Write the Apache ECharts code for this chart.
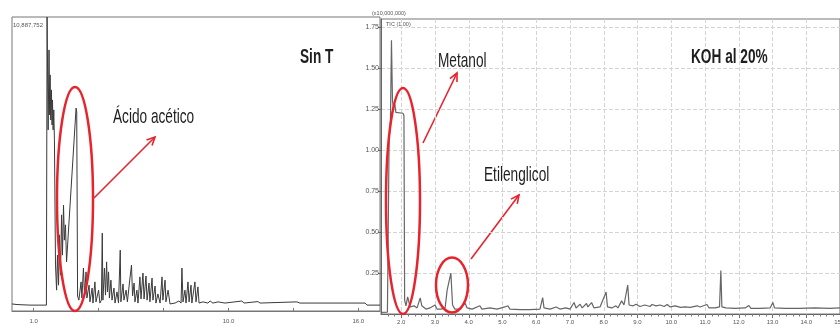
<!DOCTYPE html>
<html>
<head>
<meta charset="utf-8">
<title>Cromatogramas</title>
<script src="https://cdn.jsdelivr.net/npm/echarts@6.0.0/dist/echarts.min.js"></script>
<style>
html, body { margin: 0; padding: 0; background: #fff; }
#chart { width: 840px; height: 328px; }
</style>
</head>
<body>
<div id="chart"></div>
<script>
// Sin T - tiempo de retencion (min) y senal relativa
var sinTTime = [0, 0.09, 0.23, 0.83, 1.59, 1.62, 1.645, 1.67, 1.71, 1.74,
  1.76, 1.79, 1.82, 1.85, 1.87, 1.90, 1.93, 1.96, 2.01, 2.06,
  2.10, 2.15, 2.19, 2.24, 2.29, 2.33, 2.38, 2.42, 2.47, 2.52,
  2.96, 2.99, 3.03, 3.09, 3.19, 3.23, 3.30, 3.35, 3.42, 3.46,
  3.56, 3.60, 3.70, 3.74, 3.83, 3.88, 4.00, 4.06, 4.13, 4.17,
  4.20, 4.27, 4.32, 4.37, 4.41, 4.46, 4.50, 4.57, 4.62, 4.71,
  4.76, 4.85, 4.92, 4.97, 5.00, 5.03, 5.13, 5.17, 5.27, 5.33,
  5.45, 5.52, 5.57, 5.64, 5.68, 5.77, 5.82, 5.91, 5.96, 6.05,
  6.10, 6.19, 6.24, 6.33, 6.37, 6.47, 6.51, 6.61, 6.65, 6.74,
  6.84, 6.93, 6.97, 7.07, 7.11, 7.21, 7.30, 7.53, 7.71, 7.81,
  7.85, 7.90, 7.99, 8.04, 8.13, 8.18, 8.27, 8.31, 8.45, 8.50,
  8.59, 8.64, 8.82, 9.05, 9.15, 9.28, 9.52, 9.84, 10.62, 10.72,
  11.36, 11.46, 13.16, 13.30, 15.61, 16.31, 16.40, 17.0];
var sinTSignal = [2.4, 2.9, 2.2, 2.0, 2.0, 100, 100, 61.6, 88.8, 66.7,
  80.3, 65, 75.2, 63.3, 71.8, 61.6, 68.4, 58.2, 15.6, 7.1,
  19, 8.8, 25.9, 12.2, 32.7, 19, 36, 24.1, 29.3, 16.7,
  69, 67.7, 5.1, 3.7, 9.9, 4.4, 14.6, 5.4, 13.3, 4.4,
  8.8, 3.1, 7.8, 2.7, 9.9, 3.1, 7.1, 2.7, 3.7, 26.5,
  3.7, 14.6, 5.4, 16.7, 6.5, 13.3, 4.4, 10.5, 3.7, 7.8,
  2.7, 6.5, 2.7, 3.1, 20.7, 3.1, 9.2, 3.7, 7.1, 3.1,
  11.2, 15.6, 5.1, 9.5, 3.1, 7.1, 2.7, 11.6, 4.1, 12.9,
  4.1, 11.9, 3.7, 9.5, 3.1, 11.2, 3.7, 8.5, 2.7, 5.8,
  2.7, 11.6, 3.7, 10.5, 3.1, 7.1, 2.4, 2.7, 3.4, 2.7,
  14.6, 3.1, 7.1, 2.7, 9.9, 3.1, 8.8, 2.7, 9.9, 3.1,
  8.2, 2.7, 3.1, 2.7, 3.4, 2.7, 3.1, 2.7, 3.4, 2.7,
  3.2, 2.7, 3.1, 2.7, 2.7, 2.7, 2.0, 2.0];
var sinTTicks = [1, 4, 7, 10, 13, 16];
var sinTLabels = [1, 10, 16];

// KOH al 20% - tiempo de retencion (min) e intensidad (x10,000,000)
var kohTime = [1.40, 1.59, 1.64, 1.68, 1.71, 1.74, 1.77, 1.81, 1.84, 2.05,
  2.08, 2.10, 2.14, 2.19, 2.26, 2.38, 2.47, 2.56, 2.61, 2.73,
  2.85, 3.00, 3.06, 3.18, 3.30, 3.36, 3.47, 3.52, 3.59, 3.74,
  3.89, 3.95, 4.10, 4.33, 4.39, 4.63, 4.84, 5.07, 5.16, 5.22,
  5.52, 5.81, 6.11, 6.19, 6.23, 6.41, 6.59, 6.70, 6.88, 7.00,
  7.12, 7.18, 7.30, 7.36, 7.49, 7.53, 7.64, 7.71, 7.89, 8.07,
  8.11, 8.24, 8.36, 8.42, 8.53, 8.60, 8.71, 8.75, 8.87, 8.96,
  9.07, 9.22, 9.37, 9.43, 9.55, 9.67, 9.79, 9.88, 9.97, 10.12,
  10.27, 10.41, 10.56, 10.77, 10.85, 11.06, 11.12, 11.30, 11.43, 11.47,
  11.50, 11.62, 11.89, 12.19, 12.30, 12.36, 12.63, 12.93, 13.01, 13.06,
  13.37, 13.81, 14.26, 14.70, 15.0];
var kohSignal = [0.01, 0.012, 1.06, 1.18, 1.67, 1.30, 1.26, 1.28, 1.23, 1.225,
  1.21, 0.085, 0.05, 0.104, 0.043, 0.05, 0.037, 0.098, 0.05, 0.03,
  0.037, 0.055, 0.03, 0.03, 0.037, 0.146, 0.25, 0.055, 0.03, 0.03,
  0.067, 0.037, 0.03, 0.05, 0.03, 0.037, 0.03, 0.043, 0.05, 0.03,
  0.027, 0.027, 0.03, 0.10, 0.037, 0.03, 0.043, 0.03, 0.037, 0.03,
  0.07, 0.037, 0.06, 0.037, 0.064, 0.043, 0.07, 0.037, 0.043, 0.134,
  0.043, 0.037, 0.05, 0.037, 0.08, 0.055, 0.177, 0.055, 0.05, 0.06,
  0.046, 0.055, 0.046, 0.058, 0.05, 0.055, 0.046, 0.058, 0.043, 0.05,
  0.04, 0.043, 0.04, 0.05, 0.043, 0.058, 0.037, 0.037, 0.043, 0.265,
  0.043, 0.037, 0.034, 0.037, 0.052, 0.034, 0.034, 0.037, 0.07, 0.037,
  0.034, 0.034, 0.037, 0.034, 0.037];
var kohXLabels = [2, 3, 4, 5, 6, 7, 8, 9, 10, 11, 12, 13, 14, 15];
var kohYLabels = [0.25, 0.5, 0.75, 1, 1.25, 1.5, 1.75];

var kohMinorTicks = [];
for (var m = 8; m <= 75; m++) kohMinorTicks.push(Math.round(m * 20) / 100);

var RED = '#e8232b';
var FONT = '"Liberation Sans", Arial, sans-serif';

function pairs(xs, ys) {
  return xs.map(function (x, i) { return [x, ys[i]]; });
}

function label(text, x, y, bold) {
  return {
    type: 'text', x: x, y: y, scaleX: 0.65, z: 20,
    style: {
      text: text, font: (bold ? 'bold ' : '') + '21px ' + FONT, fill: '#1e1e1e',
      align: 'left', verticalAlign: 'middle', textAlign: 'left', textVerticalAlign: 'middle'
    }
  };
}

function arrow(x0, y0, x1, y1) {
  var a = Math.atan2(y1 - y0, x1 - x0), len = 9, w = 0.45;
  return {
    type: 'group', z: 20,
    children: [
      { type: 'line', shape: { x1: x0, y1: y0, x2: x1, y2: y1 }, style: { stroke: RED, lineWidth: 1.6 } },
      { type: 'polyline', shape: { points: [
          [x1 - len * Math.cos(a - w), y1 - len * Math.sin(a - w)], [x1, y1],
          [x1 - len * Math.cos(a + w), y1 - len * Math.sin(a + w)]] },
        style: { stroke: RED, lineWidth: 1.6, fill: 'none' } }
    ]
  };
}

function ring(cx, cy, rx, ry) {
  return { type: 'ellipse', z: 20, shape: { cx: cx, cy: cy, rx: rx, ry: ry },
    style: { fill: 'none', stroke: RED, lineWidth: 2.5 } };
}

function small(text, x, y, size) {
  return { type: 'text', x: x, y: y, z: 20,
    style: { text: text, font: size + 'px ' + FONT, fill: '#555', align: 'left', verticalAlign: 'middle',
      textAlign: 'left', textVerticalAlign: 'middle' } };
}

var chart = echarts.init(document.getElementById('chart'));

var option = {
  animation: false,
  backgroundColor: '#fff',
  grid: [
    { left: 12, top: 17, width: 368, height: 294, outerBoundsMode: 'none', containLabel: false,
      show: true, borderColor: '#777', borderWidth: 1, backgroundColor: '#fff' },
    { left: 381, top: 19, right: 0, bottom: 14, outerBoundsMode: 'none', containLabel: false,
      show: true, borderColor: '#777', borderWidth: 1 }
  ],
  xAxis: [
    {
      gridIndex: 0, type: 'value', min: 0, max: 17,
      axisLine: { lineStyle: { color: '#777' } },
      axisTick: { customValues: sinTTicks, inside: true, length: 3, lineStyle: { color: '#777' } },
      axisLabel: { customValues: sinTLabels, formatter: function (v) { return v.toFixed(1); },
        fontSize: 6, color: '#555', margin: 7, fontFamily: FONT },
      splitLine: { show: false }
    },
    {
      gridIndex: 1, type: 'value', min: 1.4, max: 15,
      axisLine: { lineStyle: { color: '#666' } },
      axisTick: { customValues: kohXLabels, length: 4, lineStyle: { color: '#666' } },
      axisLabel: { customValues: kohXLabels, formatter: function (v) { return v.toFixed(1); },
        fontSize: 6, color: '#555', margin: 5, fontFamily: FONT, hideOverlap: false },
      splitLine: { show: true, lineStyle: { color: '#d4d4d4', type: 'dashed', width: 1 } }
    },
    {
      gridIndex: 1, type: 'value', min: 1.4, max: 15, position: 'bottom', offset: 0,
      axisLine: { show: false },
      axisTick: { customValues: kohMinorTicks, length: 2.5, lineStyle: { color: '#777' } },
      axisLabel: { show: false },
      splitLine: { show: false }
    }
  ],
  yAxis: [
    { gridIndex: 0, type: 'value', min: 0, max: 100, show: false },
    {
      gridIndex: 1, type: 'value', min: 0, max: 1.8,
      axisLine: { show: true, lineStyle: { color: '#666' } },
      axisTick: { show: true, customValues: kohYLabels, length: 3, lineStyle: { color: '#666' } },
      axisLabel: { customValues: kohYLabels, formatter: function (v) { return v.toFixed(2); },
        fontSize: 7, color: '#555', margin: 2, fontFamily: FONT },
      splitLine: { show: true, lineStyle: { color: '#d4d4d4', type: 'dashed', width: 1 } }
    }
  ],
  series: [
    {
      name: 'Sin T', type: 'line', xAxisIndex: 0, yAxisIndex: 0,
      data: pairs(sinTTime, sinTSignal), showSymbol: false, clip: true,
      lineStyle: { color: '#3a3a3a', width: 1 }
    },
    {
      name: 'KOH al 20%', type: 'line', xAxisIndex: 1, yAxisIndex: 1,
      data: pairs(kohTime, kohSignal), showSymbol: false, clip: true,
      lineStyle: { color: '#666', width: 1.2 }
    }
  ],
  graphic: { elements: [
    small('10,887,752', 13, 25, 6),
    small('(x10,000,000)', 372, 13, 5.5),
    small('TIC (1.00)', 386, 24, 5.5),
    label('Sin T', 300, 57, true),
    label('\u00c1cido ac\u00e9tico', 113, 117, false),
    label('Metanol', 438, 61, false),
    label('Etilenglicol', 484, 175, false),
    label('KOH al 20%', 691, 57, true),
    ring(75, 199, 18, 112),
    ring(403, 201, 17, 113),
    ring(452, 285, 16, 27.5),
    arrow(94, 198, 155, 137),
    arrow(423, 143, 457, 73),
    arrow(471, 259, 519, 195)
  ] }
};

chart.setOption(option);
</script>
</body>
</html>
